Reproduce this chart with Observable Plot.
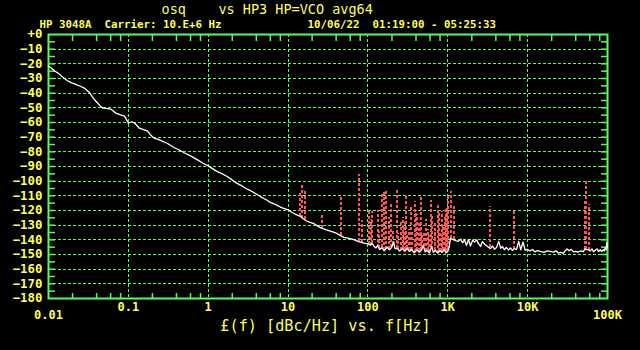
<!DOCTYPE html>
<html><head><meta charset="utf-8">
<script src="https://cdn.jsdelivr.net/npm/d3@7"></script>
<script src="https://cdn.jsdelivr.net/npm/@observablehq/plot@0.6"></script>
<style>html,body{margin:0;padding:0;background:#000;overflow:hidden;}</style>
</head><body><div id="chart"></div>
<script>
// ---- text ----
const titleText = "osq    vs HP3 HP=VCO avg64";
const subLeft = "HP 3048A  Carrier: 10.E+6 Hz";
const subRight = "10/06/22  01:19:00 - 05:25:33";
const xTitle = "£(f) [dBc/Hz] vs. f[Hz]";

// ---- axes ----
const yTickVals = [0,-10,-20,-30,-40,-50,-60,-70,-80,-90,-100,-110,-120,-130,-140,-150,-160,-170,-180];
const yTickLabels = ["+0","−10","−20","−30","−40","−50","−60","−70","−80","−90","−100","−110","−120","−130","−140","−150","−160","−170","−180"];
const xTickVals = [0.01,0.1,1,10,100,1000,10000,100000];
const xTickLabels = ["0.01","0.1","1","10","100","1K","10K","100K"];

// ---- phase noise trace (Hz, dBc/Hz) ----
const noiseFreq = [0.01,0.0115,0.0121,0.0133,0.015,0.0173,0.0195,0.0219,0.025,0.0281,0.0325,0.036,0.0393,0.044,0.0481,0.055,0.0608,0.0705,0.08,0.0893,0.096,0.1,0.11,0.119,0.137,0.155,0.174,0.19,0.211,0.235,0.256,0.31,0.376,0.43,0.5,0.6,0.735,0.86,1,1.25,1.5,1.75,2.22,2.6,2.96,3.4,3.95,4.5,5.26,6,7.02,8.3,10,11,12.5,14,16.6,18.5,21.1,25,29.6,34,39.5,45,50.1,58,66.8,75,89,100,108,113,119,126,132,140,150,160,175,185,198,210,218,233,250,270,290,310,330,350,380,410,440,470,495,520,552,590,625,660,700,750,800,850,900,950,1000,1040,1080,1250,1360,1450,1530,1620,1710,1820,1920,2050,2160,2300,2420,2580,2720,2900,3110,3420,3640,3840,4100,4340,4600,4830,5100,5420,5750,6080,6450,6820,7250,7720,8200,8760,9300,9900,10700,11500,12300,13200,14400,16000,17500,19200,21000,22700,24200,26000,27900,29500,31300,33000,35200,37500,39500,43000,46500,49700,52000,57400,60500,64000,67000,70200,74000,77500,81100,85000,88300,91000,93600,96000,98300,100000];
const noiseDb = [-21.5,-24,-25.1,-26.5,-29,-31.5,-33,-34,-35.3,-36.5,-39.5,-43,-45.5,-48.5,-50.2,-50.5,-50.9,-53.8,-54.8,-55.6,-58.5,-60.5,-59.5,-60.2,-63.9,-64.8,-65.9,-68.5,-70.7,-71.5,-72.3,-74.3,-77.2,-78.6,-80.6,-82.8,-85.5,-87.8,-89.6,-93,-95,-97,-101,-103,-105,-106.5,-108.6,-110.5,-112.5,-114.5,-116,-118,-119.5,-121,-122.7,-123.8,-126.8,-128,-129,-131.5,-133,-134,-135.3,-137,-138.3,-139,-139.8,-141,-142.2,-142.8,-143.6,-142.5,-144.4,-145.5,-144,-146.5,-145.3,-147.5,-145,-146.8,-145.2,-141.5,-146,-145.8,-147.6,-146,-147.8,-145.8,-148,-146.6,-148.8,-147,-148.5,-146.8,-144,-148.2,-147.2,-149,-144.6,-148.5,-147.3,-149,-147.5,-148.6,-146.5,-149,-148,-145,-139,-140.5,-141,-139.5,-142,-140,-143.8,-139.8,-144.2,-140.2,-141.5,-140,-142.6,-144.4,-141.2,-143,-144.3,-146,-144.2,-146.5,-145,-141,-145.8,-144.5,-146.8,-145.2,-147,-145.6,-147.2,-146,-146.6,-141,-146.8,-141.5,-147,-146.5,-147.6,-146.6,-148.2,-147.3,-147.8,-148.6,-147.6,-147.9,-148.4,-147.5,-149,-148.6,-149.2,-147.5,-146.2,-147.4,-146.5,-148.2,-147.9,-148.3,-147.6,-148,-146.3,-146.8,-147.6,-146.2,-148.2,-147,-146.2,-148,-146.8,-147.9,-146.6,-147.6,-145.6,-146.8,-141.8,-145];

// ---- spurs (Hz, peak dBc/Hz) ----
const spurFreq = [14.1,15.1,16.2,26.4,45.6,76.5,85,103,108,113.5,135,137,148,158,166,183,196,205,228,240,256,271,283,295,302,310,325,342,360,384,395,415,430,445,456,475,500,537,560,585,620,640,682,700,750,776,806,830,851,880,920,955,985,1020,1110,1190,3330,6660,51600,54200,57900];
const spurPeak = [-107,-101.5,-106,-123,-110,-95.5,-127,-120,-126,-121,-120,-134,-109,-108,-106,-125,-116,-133,-106,-136,-128,-125,-131,-127,-110,-136,-133,-117,-135,-114,-120,-123,-129,-131,-111,-136,-134,-126,-133,-137,-113,-124,-128,-132,-115,-120,-134,-138,-121,-131,-125,-119,-118,-110,-107,-116,-117,-120,-113,-100,-116];

// ---- build ----
const G = "#55ff55", YEL = "#ffff55", RED = "#ff5555", WHITE = "#ffffff";
const FONT = "DejaVu Sans Mono";

const noise = noiseFreq.map((f, i) => ({f, db: noiseDb[i]}));
function floorAt(f) {
  const lf = Math.log10(f);
  for (let i = 1; i < noiseFreq.length; i++) {
    if (noiseFreq[i] >= f) {
      const a = Math.log10(noiseFreq[i - 1]), b = Math.log10(noiseFreq[i]);
      const t = (lf - a) / (b - a);
      return noiseDb[i - 1] + t * (noiseDb[i] - noiseDb[i - 1]);
    }
  }
  return noiseDb[noiseDb.length - 1];
}
const spurs = spurFreq.map((f, i) => ({f, peak: spurPeak[i], base: floorAt(f)}));

const yLabels = yTickVals.map((v, i) => ({v, t: yTickLabels[i]}));
const xLabels = xTickVals.map((v, i) => ({v, t: xTickLabels[i], end: i === 0 || i === xTickVals.length - 1}));

const yMinor = [];
for (let v = -5; v > -180; v -= 5) yMinor.push(v);
const xMinor = [];
for (let e = -2; e < 5; e++) for (const m of [2, 4, 6, 8]) xMinor.push(m * Math.pow(10, e));
const xGrid = xTickVals.slice(1, -1);
const yGrid = yTickVals.slice(1, -1);

const chart = Plot.plot({
  width: 640, height: 350,
  marginLeft: 48, marginRight: 33, marginTop: 34, marginBottom: 52,
  style: {background: "#000", color: YEL, fontFamily: FONT, whiteSpace: "pre"},
  x: {type: "log", domain: [0.01, 100000]},
  y: {domain: [-180, 0]},
  marks: [
    Plot.ruleY(yGrid, {stroke: G, strokeDasharray: "3,2", shapeRendering: "crispEdges"}),
    Plot.ruleX(xGrid, {stroke: G, strokeDasharray: "3,2", shapeRendering: "crispEdges"}),
    Plot.axisY(yMinor, {anchor: "left", tickSize: 7, dx: 7, stroke: G, strokeWidth: 1.5, fill: "none", label: null}),
    Plot.axisY(yMinor, {anchor: "right", tickSize: 7, dx: -7, stroke: G, strokeWidth: 1.5, fill: "none", label: null}),
    Plot.axisX(xMinor, {anchor: "bottom", tickSize: 5, dy: -5, stroke: G, strokeWidth: 1.5, fill: "none", label: null}),
    Plot.axisX(xMinor, {anchor: "top", tickSize: 6, dy: 6, stroke: G, strokeWidth: 1.5, fill: "none", label: null}),
    Plot.frame({stroke: G, strokeWidth: 2}),
    Plot.ruleX(spurs, {x: "f", y1: "base", y2: "peak", stroke: RED, strokeWidth: 2, strokeDasharray: "3,2", shapeRendering: "crispEdges"}),
    Plot.line(noise, {x: "f", y: "db", stroke: WHITE, strokeWidth: 1.3}),
    Plot.text(yLabels, {y: "v", text: "t", frameAnchor: "left", textAnchor: "end", dx: -6, fill: YEL, fontSize: 12.4, fontWeight: "bold", fontFamily: FONT}),
    Plot.text(xLabels.filter(d => !d.end), {x: "v", text: "t", frameAnchor: "bottom", lineAnchor: "middle", dy: 8.5, fill: YEL, fontSize: 12, fontWeight: "bold", fontFamily: FONT}),
    Plot.text(xLabels.filter(d => d.end), {x: "v", text: "t", frameAnchor: "bottom", lineAnchor: "middle", dy: 16.5, fill: YEL, fontSize: 12, fontWeight: "bold", fontFamily: FONT}),
    Plot.text([xTitle], {text: d => d, frameAnchor: "bottom", lineAnchor: "middle", dx: -2.5, dy: 28, fill: YEL, fontSize: 15.2, fontFamily: FONT}),
    Plot.text([titleText], {text: d => d, frameAnchor: "top-left", textAnchor: "start", lineAnchor: "middle", dx: 113, dy: -25, fill: YEL, fontSize: 13.5, fontFamily: FONT}),
    Plot.text([subLeft], {text: d => d, frameAnchor: "top-left", textAnchor: "start", lineAnchor: "middle", dx: -9, dy: -9.5, fill: YEL, fontSize: 10.8, fontWeight: "bold", fontFamily: FONT}),
    Plot.text([subRight], {text: d => d, frameAnchor: "top-left", textAnchor: "start", lineAnchor: "middle", dx: 259, dy: -9.5, fill: YEL, fontSize: 10.8, fontWeight: "bold", fontFamily: FONT})
  ]
});
document.getElementById("chart").appendChild(chart);
</script></body></html>
